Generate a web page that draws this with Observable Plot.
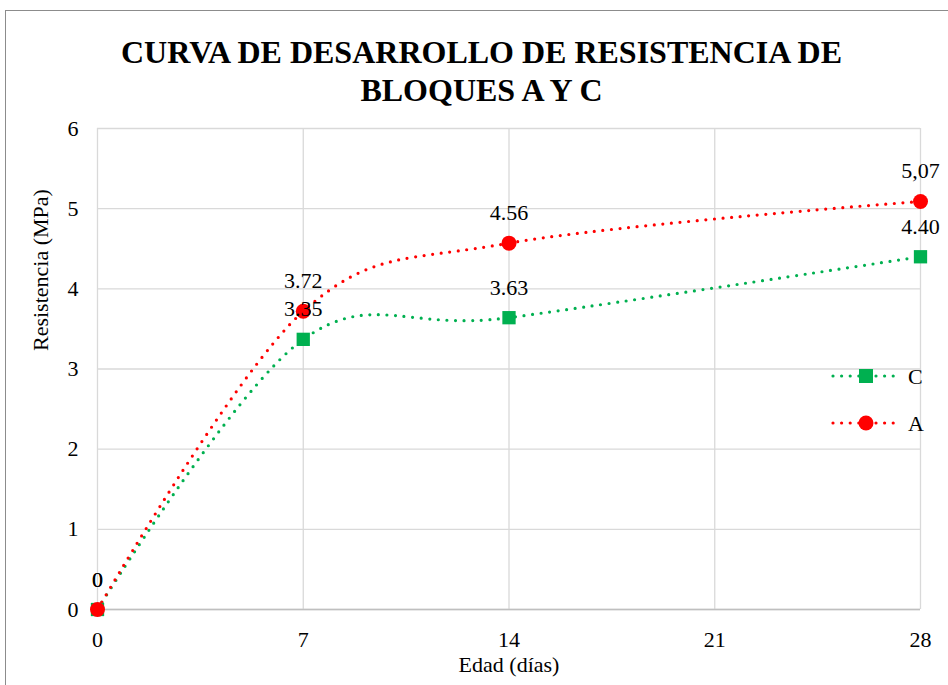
<!DOCTYPE html>
<html>
<head>
<meta charset="utf-8">
<script src="https://cdn.jsdelivr.net/npm/d3@7"></script>
<script src="https://cdn.jsdelivr.net/npm/@observablehq/plot@0.6"></script>
<style>
  #wrap, #wrap div, #wrap svg, #wrap text { font-family: 'Liberation Serif', 'Times New Roman', serif !important; }
</style>
</head>
<body style="margin:0;background:#fff">
<div id="wrap" style="position:relative;width:948px;height:685px;overflow:hidden;font-family:'Liberation Serif',serif">
  <div style="position:absolute;left:5px;top:10px;width:960px;height:700px;border:1.5px solid #8c8c8c;box-sizing:border-box"></div>
  <div id="plot" style="position:absolute;left:0;top:0"></div>
  <div id="title" style="position:absolute;left:0;top:33px;width:963px;text-align:center;font-family:'Liberation Serif',serif;font-weight:bold;font-size:32px;line-height:38px;color:#000">CURVA DE DESARROLLO DE RESISTENCIA DE<br>BLOQUES A Y C</div>
  <svg id="legend" width="948" height="685" style="position:absolute;left:0;top:0"></svg>
</div>
<script>
const days = [0, 7, 14, 28];
const resistA = [0, 3.72, 4.57, 5.09];
const resistC = [0, 3.37, 3.64, 4.40];
const labelsA = ["0", "3.72", "4.56", "5,07"];
const labelsC = ["0", "3.35", "3.63", "4.40"];
const xTicks = [0, 7, 14, 21, 28];
const yTicks = [0, 1, 2, 3, 4, 5, 6];
const seriesNames = ["C", "A"];
const colorC = "#00B050";
const colorA = "#FF0000";
const FONT = "'Liberation Serif', serif";

const dataC = days.map((d, i) => ({x: d, y: resistC[i], label: labelsC[i]}));
const dataA = days.map((d, i) => ({x: d, y: resistA[i], label: labelsA[i]}));

const dotted = {strokeWidth: 3.2, strokeDasharray: "0,8.6", strokeLinecap: "round", curve: "cardinal", tension: 0};
const txt = {fontFamily: FONT, fontSize: 22, fill: "#000"};

const chart = Plot.plot({
  width: 948,
  height: 685,
  marginLeft: 97,
  marginRight: 28,
  marginTop: 128,
  marginBottom: 76,
  style: {fontFamily: FONT, fontSize: "22px", color: "#000", background: "transparent"},
  x: {domain: [0, 28], ticks: xTicks, label: null},
  y: {domain: [0, 6], ticks: yTicks, label: null},
  marks: [
    Plot.gridX(xTicks, {stroke: "#d9d9d9", strokeOpacity: 1, strokeWidth: 1.3}),
    Plot.gridY(yTicks, {stroke: "#d9d9d9", strokeOpacity: 1, strokeWidth: 1.3}),
    Plot.ruleY([0], {stroke: "#bfbfbf", strokeWidth: 1.5}),
    Plot.axisX(xTicks, {tickSize: 0, tickPadding: 22, ...txt, tickFormat: d => String(d)}),
    Plot.axisY(yTicks, {tickSize: 0, tickPadding: 19, ...txt, tickFormat: d => String(d)}),
    Plot.text(["Edad (días)"], {frameAnchor: "bottom", dy: 62, ...txt}),
    Plot.text(["Resistencia (MPa)"], {frameAnchor: "left", dx: -57, dy: -18, rotate: -90, ...txt}),
    Plot.line(dataC, {x: "x", y: "y", stroke: colorC, ...dotted}),
    Plot.line(dataA, {x: "x", y: "y", stroke: colorA, ...dotted}),
    Plot.dot(dataC, {x: "x", y: "y", symbol: "square", r: 7.5, fill: colorC, stroke: "none"}),
    Plot.dot(dataA, {x: "x", y: "y", symbol: "circle", r: 7.5, fill: colorA, stroke: "none"}),
    Plot.text(dataC, {x: "x", y: "y", text: "label", dy: -30, ...txt}),
    Plot.text(dataA, {x: "x", y: "y", text: "label", dy: -30, ...txt})
  ]
});
document.getElementById("plot").appendChild(chart);

// Legend
const leg = d3.select("#legend");
const legItems = [
  {name: seriesNames[0], color: colorC, sym: "square", y: 376},
  {name: seriesNames[1], color: colorA, sym: "circle", y: 423}
];
legItems.forEach(it => {
  leg.append("line").attr("x1", 833).attr("x2", 897).attr("y1", it.y).attr("y2", it.y)
    .attr("stroke", it.color).attr("stroke-width", 3.2).attr("stroke-linecap", "round").attr("stroke-dasharray", "0,8.6");
  if (it.sym === "square") {
    leg.append("rect").attr("x", 866 - 7).attr("y", it.y - 7).attr("width", 14).attr("height", 14).attr("fill", it.color);
  } else {
    leg.append("circle").attr("cx", 866).attr("cy", it.y).attr("r", 7.5).attr("fill", it.color);
  }
  leg.append("text").attr("x", 908).attr("y", it.y).attr("dy", "0.35em")
    .attr("font-family", FONT).attr("font-size", 22).attr("fill", "#000").text(it.name);
});
</script>
</body>
</html>
